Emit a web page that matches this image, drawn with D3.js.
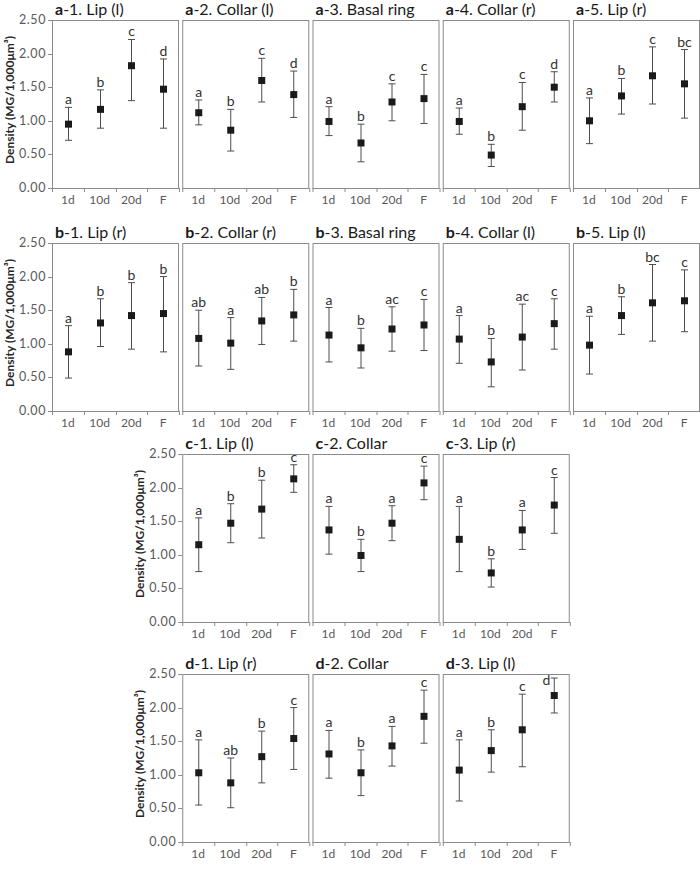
<!DOCTYPE html>
<html><head><meta charset="utf-8">
<script src="https://cdn.jsdelivr.net/npm/d3@7"></script>
<style>body{margin:0;background:#fff}</style>
</head><body><svg id="c" width="700" height="870"></svg>
<script>
const categories = ["1d","10d","20d","F"];
const yTicks = [0, 0.5, 1.0, 1.5, 2.0, 2.5];
const panelLetters = ["a","a","a","a","a","b","b","b","b","b","c","c","c","d","d","d"];
const panelNumbers = [1,2,3,4,5,1,2,3,4,5,1,2,3,1,2,3];
const panelNames = ["Lip (l)","Collar (l)","Basal ring","Collar (r)","Lip (r)",
  "Lip (r)","Collar (r)","Basal ring","Collar (l)","Lip (l)",
  "Lip (l)","Collar","Lip (r)",
  "Lip (r)","Collar","Lip (l)"];
const means = [
  [0.95,1.17,1.82,1.47],[1.12,0.86,1.60,1.39],[0.99,0.67,1.28,1.33],[0.99,0.49,1.21,1.50],[1.00,1.37,1.67,1.55],
  [0.88,1.31,1.42,1.45],[1.08,1.01,1.34,1.43],[1.13,0.94,1.22,1.28],[1.07,0.73,1.10,1.30],[0.98,1.42,1.61,1.64],
  [1.15,1.47,1.68,2.13],[1.37,0.99,1.47,2.07],[1.23,0.73,1.37,1.74],
  [1.03,0.88,1.27,1.54],[1.31,1.03,1.43,1.87],[1.07,1.36,1.67,2.18]
];
const upper = [
  [1.20,1.46,2.21,1.92],[1.31,1.17,1.93,1.74],[1.21,0.95,1.55,1.69],[1.19,0.65,1.57,1.73],[1.34,1.63,2.10,2.06],
  [1.27,1.67,1.91,2.00],[1.50,1.39,1.69,1.81],[1.54,1.23,1.55,1.66],[1.42,1.08,1.59,1.67],[1.41,1.70,2.18,2.10],
  [1.55,1.76,2.11,2.34],[1.72,1.23,1.73,2.32],[1.72,0.94,1.66,2.15],
  [1.52,1.25,1.65,2.00],[1.66,1.37,1.72,2.26],[1.52,1.67,2.20,2.44]
];
const lower = [
  [0.71,0.89,1.30,0.89],[0.94,0.55,1.28,1.05],[0.78,0.39,1.00,0.96],[0.80,0.32,0.86,1.28],[0.66,1.10,1.25,1.04],
  [0.49,0.96,0.92,0.88],[0.67,0.62,0.99,1.04],[0.73,0.64,0.89,0.90],[0.71,0.36,0.61,0.92],[0.55,1.14,1.04,1.18],
  [0.75,1.18,1.25,1.93],[1.01,0.75,1.21,1.82],[0.75,0.52,1.08,1.32],
  [0.55,0.51,0.88,1.08],[0.95,0.69,1.13,1.47],[0.61,1.04,1.12,1.92]
];
const letters = [
  ["a","b","c","d"],["a","b","c","d"],["a","b","c","c"],["a","b","c","d"],["a","b","c","bc"],
  ["a","b","b","b"],["ab","a","ab","b"],["a","b","ac","c"],["a","b","ac","c"],["a","b","bc","c"],
  ["a","b","b","c"],["a","b","a","c"],["a","b","a","c"],
  ["a","ab","b","c"],["a","b","a","c"],["a","b","c","d"]
];
const yTitle = "Density (MG/1,000\u03BCm\u00B3)";

// layout
const rowTops = [20, 243, 454, 674];
const plotH = 168, plotW = 127;
const colLefts = [52, 182.25, 312.5, 442.75, 573];
const panelRow = [0,0,0,0,0,1,1,1,1,1,2,2,2,3,3,3];
const panelCol = [0,1,2,3,4,0,1,2,3,4,1,2,3,1,2,3];
const FONT = "Lato, 'Open Sans', sans-serif";

const svg = d3.select("#c");
const y = d3.scaleLinear().domain([0, 2.5]).range([plotH, 0]);
const x = d3.scaleBand().domain(categories).range([0, plotW]);

panelLetters.forEach((pl, i) => {
  const left = colLefts[panelCol[i]], top = rowTops[panelRow[i]];
  const g = svg.append("g").attr("transform", `translate(${left},${top})`);
  const firstInRow = panelRow[i] < 2 ? panelCol[i] === 0 : panelCol[i] === 1;

  // frame
  g.append("rect").attr("x", 0.5).attr("y", 0.5).attr("width", plotW - 1).attr("height", plotH)
    .attr("fill", "none").attr("stroke", "#8a8a8a").attr("stroke-width", 1);

  // x axis ticks at band boundaries
  const bounds = categories.map(c => x(c)).concat([plotW]);
  g.selectAll(".xt").data(bounds).enter().append("line")
    .attr("x1", d => Math.round(d) + 0.5).attr("x2", d => Math.round(d) + 0.5)
    .attr("y1", plotH).attr("y2", plotH + 4).attr("stroke", "#8a8a8a");
  g.selectAll(".xl").data(categories).enter().append("text")
    .attr("x", d => x(d) + x.bandwidth() / 2).attr("y", plotH + 16)
    .attr("text-anchor", "middle").attr("font-family", FONT).attr("font-size", 12)
    .attr("fill", "#595959").text(d => d);

  if (firstInRow) {
    g.selectAll(".yt").data(yTicks).enter().append("line")
      .attr("x1", -4).attr("x2", 0).attr("y1", d => Math.round(y(d)) + 0.5).attr("y2", d => Math.round(y(d)) + 0.5)
      .attr("stroke", "#8a8a8a");
    g.selectAll(".yl").data(yTicks).enter().append("text")
      .attr("x", -6).attr("y", d => y(d) + 4).attr("text-anchor", "end")
      .attr("font-family", FONT).attr("font-size", 12.5).attr("letter-spacing", 0.6)
      .attr("fill", "#595959").text(d => d.toFixed(2));
    g.append("text").attr("transform", `translate(-38,${plotH / 2 - 4}) rotate(-90)`)
      .attr("text-anchor", "middle").attr("font-family", FONT).attr("font-weight", "bold")
      .attr("font-size", 12).attr("fill", "#262626").text(yTitle);
  }

  // title
  const t = g.append("text").attr("x", 3).attr("y", -5).attr("font-family", FONT)
    .attr("font-size", 16).attr("fill", "#1a1a1a");
  t.append("tspan").attr("font-weight", "bold").text(pl);
  t.append("tspan").text(`-${panelNumbers[i]}. ${panelNames[i]}`);

  // error bars & markers
  categories.forEach((c, j) => {
    const cx = Math.round(x(c) + x.bandwidth() / 2) + 0.5;
    const yt = y(upper[i][j]), yb = y(lower[i][j]), ym = y(means[i][j]);
    g.append("line").attr("x1", cx).attr("x2", cx).attr("y1", yt).attr("y2", yb).attr("stroke", "#4d4d4d");
    g.append("line").attr("x1", cx - 3.5).attr("x2", cx + 3.5).attr("y1", yt).attr("y2", yt).attr("stroke", "#4d4d4d");
    g.append("line").attr("x1", cx - 3.5).attr("x2", cx + 3.5).attr("y1", yb).attr("y2", yb).attr("stroke", "#4d4d4d");
    g.append("rect").attr("x", cx - 3.5).attr("y", ym - 3.5).attr("width", 7).attr("height", 7).attr("fill", "#1a1a1a");
    const crowded = yt < 8;
    g.append("text")
      .attr("x", crowded ? cx - 4 : cx).attr("y", crowded ? yt + 7 : yt - 3)
      .attr("text-anchor", crowded ? "end" : "middle")
      .attr("font-family", FONT).attr("font-size", 14).attr("fill", "#333")
      .text(letters[i][j]);
  });
});
</script></body></html>
